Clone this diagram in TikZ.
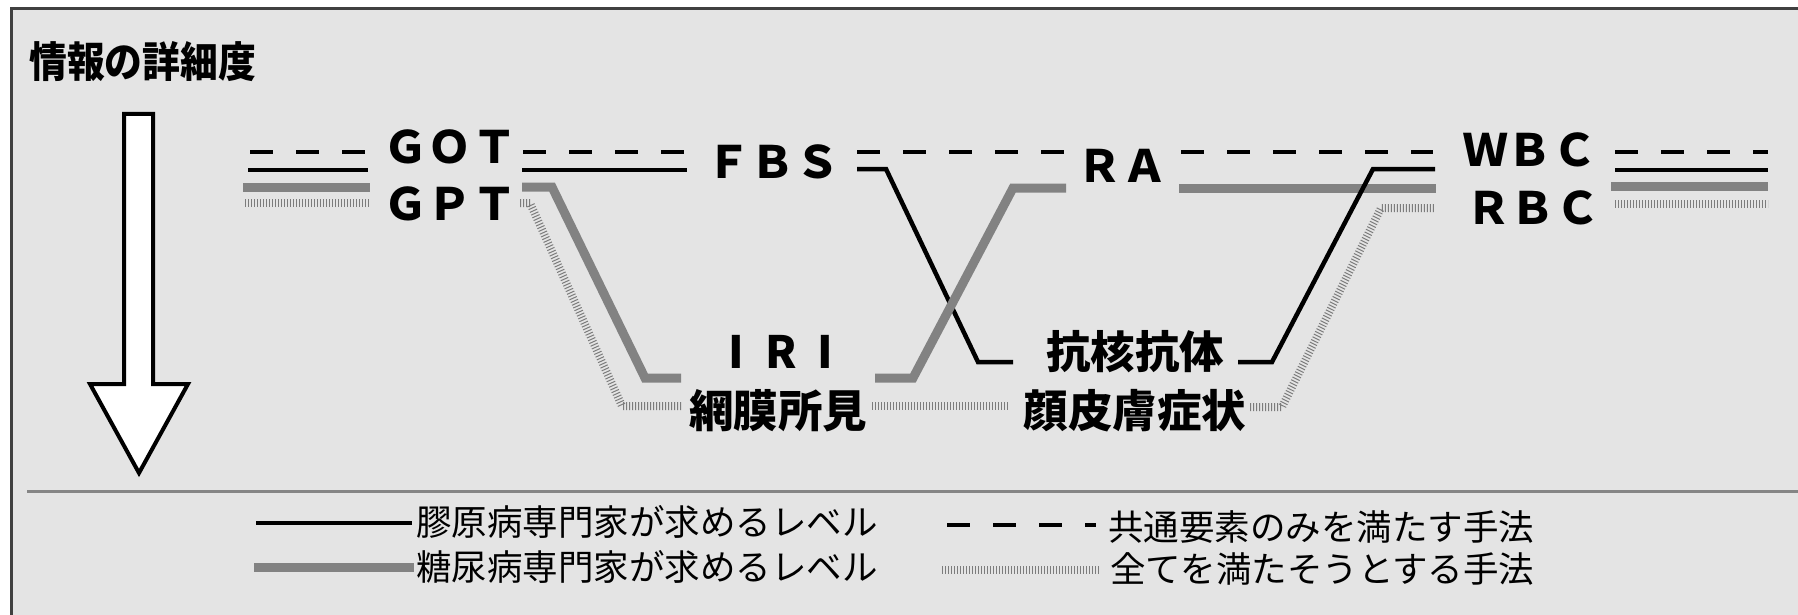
\documentclass[tikz,border=0pt]{standalone}
\usepackage{fontspec}
\newfontfamily\jp{Noto Sans CJK JP}
\usetikzlibrary{calc}
\definecolor{bgc}{HTML}{E4E4E4}
\definecolor{framec}{HTML}{404040}
\definecolor{sepc}{HTML}{858585}
\definecolor{hatchc}{HTML}{828282}
\definecolor{dotc}{HTML}{7C7C7C}
\newcommand{\fwl}[1]{\makebox[1em]{#1}}
\begin{document}
\begin{tikzpicture}[x=1pt,y=-1pt,
  lbl/.style={font=\jp\bfseries\fontsize{44.5}{44.5}\selectfont, inner sep=0pt, text=black},
  leg/.style={font=\jp\fontsize{35.5}{35.5}\selectfont, inner sep=0pt, anchor=west, text=black},
  solidline/.style={line width=4.5pt, draw=black},
  dashline/.style={line width=4.5pt, draw=black, dash pattern=on 23pt off 23pt},
  hatchline/.style={line width=9pt, draw=hatchc},
  dotline/.style={line width=8pt, draw=dotc, dash pattern=on 1pt off 2pt},
]
\useasboundingbox (0,0) rectangle (1798,615);
\fill[white] (0,0) rectangle (1798,615);
\draw[line width=3pt, draw=framec, fill=bgc] (11,9) rectangle (1830,650);
% title
\node[anchor=west, inner sep=0pt, font=\jp\bfseries\fontsize{42}{42}\selectfont] (title) at (29,62) {\scalebox{0.9}[1]{情報の詳細度}};
% big arrow
\draw[line width=4pt, fill=white, line join=miter]
  (124,114) -- (153,114) -- (153,384) -- (188,384) -- (139,473) -- (90,384) -- (124,384) -- cycle;
% separator
\draw[line width=3pt, draw=sepc] (27,491) -- (1830,491);

% labels
\node[lbl] (got) at (450,147) {ＧＯＴ};
\node[lbl] (gpt) at (450,204) {ＧＰＴ};
\node[lbl] (fbs) at (773,162) {ＦＢＳ};
\node[lbl] (ra)  at (1122,166) {ＲＡ};
\node[lbl] (wbc) at (1530,150) {ＷＢＣ};
\node[lbl] (rbc) at (1533,208) {ＲＢＣ};
\node[lbl] (iri) at (781,352) {\fwl{I}\fwl{R}\fwl{I}};
\node[lbl] (mo)  at (778,411) {網膜所見};
\node[lbl] (ana) at (1135,352) {抗核抗体};
\node[lbl] (skin) at (1135,411) {顔皮膚症状};

% coordinates
\coordinate (dL1) at (250,152); \coordinate (dL2) at (368,152);
\coordinate (sL1) at (248,170); \coordinate (sL2) at (368,170);
\coordinate (hL1) at (243,187); \coordinate (hL2) at (370,187);
\coordinate (oL1) at (245,203); \coordinate (oL2) at (370,203);

\coordinate (dA1) at (523,152); \coordinate (dA2) at (687,152);
\coordinate (sA1) at (522,170); \coordinate (sA2) at (687,170);
\coordinate (hA1) at (522,187); \coordinate (hA2) at (552,187); \coordinate (hA3) at (645,378); \coordinate (hA4) at (681,378);
\coordinate (oA1) at (520,203); \coordinate (oA2) at (530,203); \coordinate (oA3) at (622,406); \coordinate (oA4) at (681,406);

\coordinate (dB1) at (857,152); \coordinate (dB2) at (1066,152);
\coordinate (sB1) at (857,169); \coordinate (sB2) at (886,169); \coordinate (sB3) at (978,362); \coordinate (sB4) at (1013,362);
\coordinate (hB1) at (875,378); \coordinate (hB2) at (913,378); \coordinate (hB3) at (1013,188); \coordinate (hB4) at (1066,188);
\coordinate (oB1) at (872,406); \coordinate (oB2) at (1008,406);

\coordinate (dC1) at (1181,152); \coordinate (dC2) at (1433,152);
\coordinate (hC1) at (1179,188); \coordinate (hC2) at (1436,188);
\coordinate (sC1) at (1238,362); \coordinate (sC2) at (1272,362); \coordinate (sC3) at (1373,169); \coordinate (sC4) at (1435,169);
\coordinate (oC1) at (1250,407); \coordinate (oC2) at (1282,407); \coordinate (oC3) at (1381,208); \coordinate (oC4) at (1435,208);

\coordinate (dR1) at (1615,152); \coordinate (dR2) at (1768,152);
\coordinate (sR1) at (1615,170); \coordinate (sR2) at (1768,170);
\coordinate (hR1) at (1611,186); \coordinate (hR2) at (1768,186);
\coordinate (oR1) at (1615,204); \coordinate (oR2) at (1768,204);

% lines
\draw[dashline] (dL1) -- (dL2);
\draw[solidline] (sL1) -- (sL2);
\draw[hatchline] (hL1) -- (hL2);
\draw[dotline] (oL1) -- (oL2);

\draw[dashline] (dA1) -- (dA2);
\draw[solidline] (sA1) -- (sA2);
\draw[hatchline] (hA1) -- (hA2) -- (hA3) -- (hA4);
\draw[dotline] (oA1) -- (oA2) -- (oA3) -- (oA4);

\draw[dashline] (dB1) -- (dB2);
\draw[solidline] (sB1) -- (sB2) -- (sB3) -- (sB4);
\draw[hatchline] (hB1) -- (hB2) -- (hB3) -- (hB4);
\draw[dotline] (oB1) -- (oB2);

\draw[dashline] (dC1) -- (dC2);
\draw[hatchline] (hC1) -- (hC2);
\draw[solidline] (sC1) -- (sC2) -- (sC3) -- (sC4);
\draw[dotline] (oC1) -- (oC2) -- (oC3) -- (oC4);

\draw[dashline] (dR1) -- (dR2);
\draw[solidline] (sR1) -- (sR2);
\draw[hatchline] (hR1) -- (hR2);
\draw[dotline] (oR1) -- (oR2);

% legend
\coordinate (lg1a) at (256,523); \coordinate (lg1b) at (412,523);
\coordinate (lg2a) at (254,567); \coordinate (lg2b) at (414,567);
\coordinate (lg3a) at (947,525); \coordinate (lg3b) at (1096,525);
\coordinate (lg4a) at (942,570); \coordinate (lg4b) at (1099,570);
\draw[solidline] (lg1a) -- (lg1b);
\draw[hatchline] (lg2a) -- (lg2b);
\draw[dashline] (lg3a) -- (lg3b);
\draw[dotline] (lg4a) -- (lg4b);
\node[leg] (t1) at (416,522) {膠原病専門家が求めるレベル};
\node[leg] (t2) at (416,567) {糖尿病専門家が求めるレベル};
\node[leg] (t3) at (1108,527) {共通要素のみを満たす手法};
\node[leg] (t4) at (1110,569) {全てを満たそうとする手法};
\end{tikzpicture}
\end{document}
